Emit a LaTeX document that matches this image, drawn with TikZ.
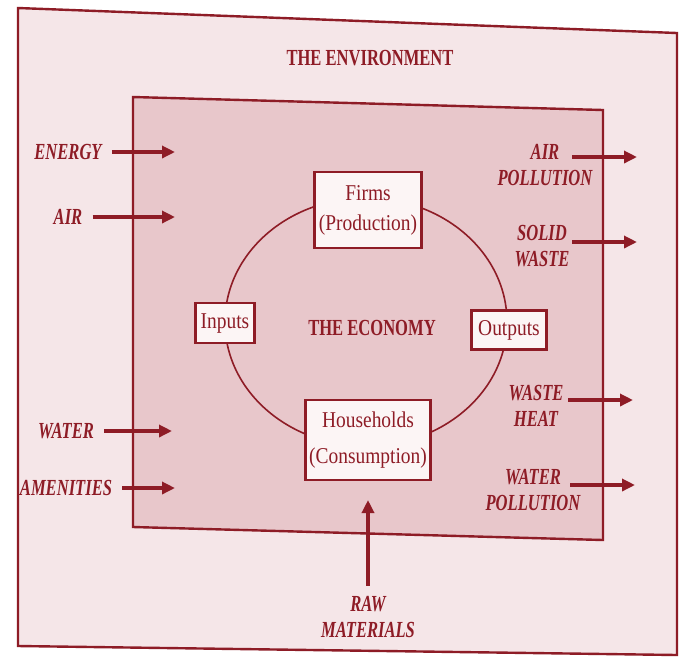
\documentclass[tikz,border=0pt]{standalone}
\usepackage{fontspec}
\setmainfont{Liberation Serif}
\newfontfamily\flowfont[FakeStretch=0.72]{Liberation Serif}
\newfontfamily\sectorfont[FakeStretch=0.86]{Liberation Serif}
\usetikzlibrary{arrows.meta}
\definecolor{ink}{HTML}{8E1C26}
\definecolor{paper}{HTML}{F5E6E8}
\definecolor{economy}{HTML}{E8C7CB}
\definecolor{boxfill}{HTML}{FCF5F5}
\tikzset{
  heading/.style={font=\flowfont\bfseries\fontsize{11.5}{13}\selectfont, text=ink, inner sep=0pt},
  flow/.style={font=\flowfont\bfseries\itshape\fontsize{11.5}{13}\selectfont, text=ink, align=center, inner sep=0pt},
  flowarrow/.style={draw=ink, line width=1.7pt, -{Triangle[length=6.5pt,width=6pt]}},
  sector/.style={draw=ink, line width=1.1pt, fill=boxfill, text=ink, align=center, inner sep=0pt,
    font=\sectorfont\fontsize{11.3}{15}\selectfont},
}
\begin{document}
\begin{tikzpicture}[x=0.5pt, y=-0.5pt]
  \useasboundingbox (0,0) rectangle (681,661);
  \fill[white] (0,0) rectangle (681,661);
  \filldraw[fill=paper, draw=ink, line width=1.2pt] (18,8) -- (677,33) -- (677,655) -- (18,646) -- cycle;
  \filldraw[fill=economy, draw=ink, line width=1.2pt] (133,97) -- (603,110) -- (603,540) -- (133,527) -- cycle;
  \node[heading] (environment) at (370,58) {THE ENVIRONMENT};

  \draw[ink, line width=0.8pt] (366,322) ellipse [x radius=141, y radius=124];
  \node[sector, minimum width=53.5pt, minimum height=38pt] (firms) at (368,210) {Firms\\(Production)};
  \node[sector, minimum width=29.5pt, minimum height=20pt] (inputs) at (225,323) {Inputs};
  \node[sector, minimum width=37.5pt, minimum height=19.5pt] (outputs) at (509,330) {Outputs};
  \node[sector, minimum width=62.5pt, minimum height=40pt] (households) at (368,440) {Households\\[3pt](Consumption)};
  \node[heading] (economy) at (372,328) {THE ECONOMY};

  \node[flow] (energy) at (68,152) {ENERGY};
  \node[flow] (air) at (68,217) {AIR};
  \node[flow] (water) at (66,431) {WATER};
  \node[flow] (amenities) at (66,488) {AMENITIES};
  \coordinate (energy in) at (175,152);
  \coordinate (air in) at (175,217);
  \coordinate (water in) at (172,431);
  \coordinate (amenities in) at (175,488);
  \foreach \src in {energy, air, water, amenities}
    \draw[flowarrow, shorten <=5pt] (\src) -- (\src\space in);

  \node[flow] (airpol) at (545,165) {AIR\\POLLUTION};
  \node[flow] (solid) at (542,246) {SOLID\\WASTE};
  \node[flow] (heat) at (536,406) {WASTE\\HEAT};
  \node[flow] (waterpol) at (533,490) {WATER\\POLLUTION};
  \coordinate (airpol tail) at (572,157);  \coordinate (airpol head) at (637,157);
  \coordinate (solid tail) at (572,242);   \coordinate (solid head) at (637,242);
  \coordinate (heat tail) at (568,400);    \coordinate (heat head) at (633,400);
  \coordinate (waterpol tail) at (570,485);\coordinate (waterpol head) at (635,485);
  \foreach \out in {airpol, solid, heat, waterpol}
    \draw[flowarrow] (\out\space tail) -- (\out\space head);

  \node[flow] (raw) at (368,617) {RAW\\MATERIALS};
  \coordinate (raw head) at (368,500);
  \draw[flowarrow, shorten <=5pt] (raw) -- (raw head);
\end{tikzpicture}
\end{document}
